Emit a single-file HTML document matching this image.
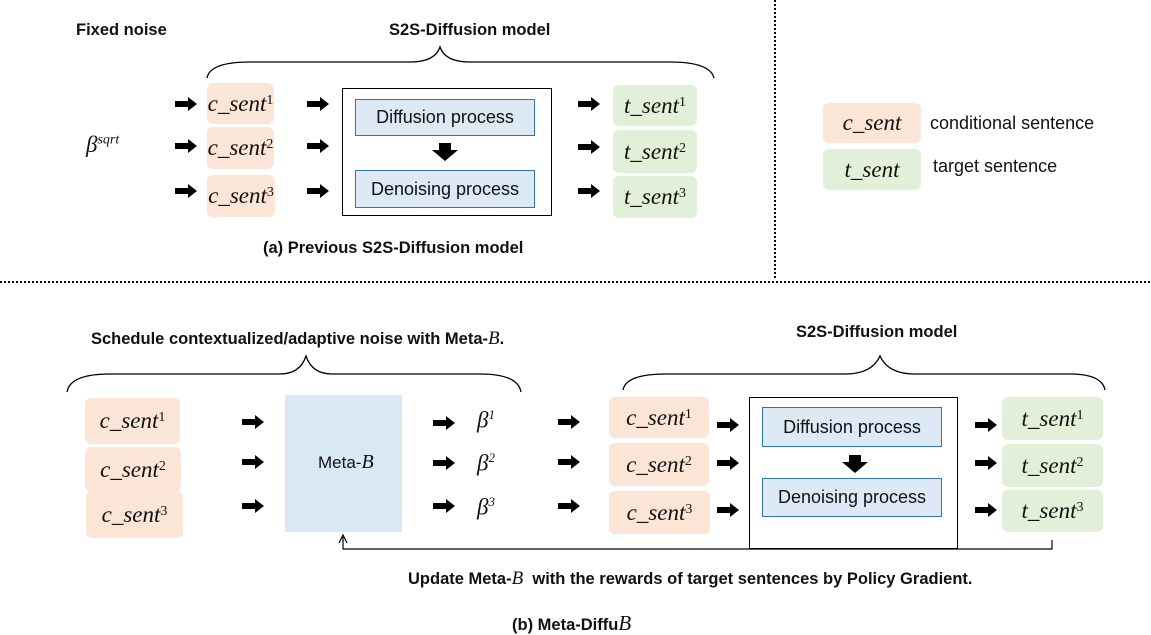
<!DOCTYPE html>
<html><head><meta charset="utf-8">
<style>
html,body{margin:0;padding:0;background:#fff;}
#root{position:relative;width:1151px;height:635px;overflow:hidden;font-family:"Liberation Sans",sans-serif;}
.t{position:absolute;white-space:nowrap;color:#111;}
.b{font-weight:bold;font-size:16.5px;}
.box{position:absolute;border-radius:6px;display:flex;align-items:center;justify-content:center;font-family:"Liberation Serif",serif;font-style:italic;font-size:23px;color:#111;}
.box sup{font-size:14px;font-style:normal;position:relative;top:-3px;}
.c{background:#fbe5d6;}
.g{background:#e2efd9;}
.blue{position:absolute;background:#dde9f5;border:1.5px solid #2e75b6;display:flex;align-items:center;justify-content:center;font-size:18px;color:#111;box-sizing:border-box;}
.frame{position:absolute;border:1.5px solid #000;box-sizing:border-box;}
.m{font-family:"Liberation Serif",serif;font-style:italic;}
</style></head><body>
<div id="root">
<svg id="svg" width="1151" height="635" style="position:absolute;left:0;top:0">
<line x1="775" y1="0" x2="775" y2="280" stroke="#000" stroke-width="2" stroke-dasharray="2,2"/>
<line x1="0" y1="282" x2="1151" y2="282" stroke="#000" stroke-width="2" stroke-dasharray="2,2"/>
<path d="M207,78 Q210,62 250,62 L410,62 Q435,62 440,47 Q445,62 470,62 L670,62 Q710,62 714,78" fill="none" stroke="#000" stroke-width="1.3"/>
<path d="M67,392 Q70,374 110,374 L280,374 Q300,374 306,356 Q312,374 332,374 L480,374 Q518,374 521,392" fill="none" stroke="#000" stroke-width="1.3"/>
<path d="M623,390 Q626,374 666,374 L845,374 Q872,374 880,356 Q888,374 915,374 L1070,374 Q1102,374 1105,390" fill="none" stroke="#000" stroke-width="1.3"/>
<polyline points="1052,540 1052,549 343,549 343,537" fill="none" stroke="#000" stroke-width="1.2"/>
<polyline points="339,543 343,535 347,543" fill="none" stroke="#000" stroke-width="1.2"/>
</svg>

<div class="t b" style="left:76px;top:21px">Fixed noise</div>
<div class="t b" style="left:389px;top:21px">S2S-Diffusion model</div>
<div class="t m" style="left:86px;top:132px;font-size:23px">β<sup style="font-size:14px">sqrt</sup></div>

<div class="box c" style="left:207px;top:83px;width:67px;height:41px">c_sent<sup>1</sup></div>
<div class="box c" style="left:207px;top:127px;width:67px;height:42px">c_sent<sup>2</sup></div>
<div class="box c" style="left:207px;top:175px;width:68px;height:42px">c_sent<sup>3</sup></div>

<div class="frame" style="left:342px;top:88px;width:210px;height:128px"></div>
<div class="blue" style="left:355px;top:99px;width:180px;height:37px">Diffusion process</div>
<div class="blue" style="left:355px;top:170px;width:180px;height:38px">Denoising process</div>

<div class="box g" style="left:613px;top:85px;width:84px;height:41px">t_sent<sup>1</sup></div>
<div class="box g" style="left:613px;top:130px;width:84px;height:43px">t_sent<sup>2</sup></div>
<div class="box g" style="left:613px;top:176px;width:84px;height:42px">t_sent<sup>3</sup></div>

<div class="t b" style="left:263px;top:239px">(a) Previous S2S-Diffusion model</div>

<div class="box c" style="left:823px;top:103px;width:98px;height:40px">c_sent</div>
<div class="t" style="left:930px;top:113px;font-size:18px">conditional sentence</div>
<div class="box g" style="left:823px;top:149px;width:98px;height:41px">t_sent</div>
<div class="t" style="left:933px;top:156px;font-size:18px">target sentence</div>

<div class="t b" style="left:91px;top:328px">Schedule contextualized/adaptive noise with Meta-<span class="m" style="font-weight:normal;font-size:19px">B</span>.</div>
<div class="t b" style="left:796px;top:323px">S2S-Diffusion model</div>

<div class="box c" style="left:85px;top:398px;width:95px;height:46px">c_sent<sup>1</sup></div>
<div class="box c" style="left:85px;top:447px;width:96px;height:45px">c_sent<sup>2</sup></div>
<div class="box c" style="left:86px;top:491px;width:97px;height:47px">c_sent<sup>3</sup></div>

<div style="position:absolute;left:285px;top:395px;width:117px;height:137px;background:#dae8f5"></div>
<div class="t" style="left:318px;top:451px;font-size:17px">Meta-<span class="m" style="font-size:20px">B</span></div>

<div class="t m" style="left:477px;top:407px;font-size:23px">β<sup style="font-size:13px">1</sup></div>
<div class="t m" style="left:477px;top:450px;font-size:23px">β<sup style="font-size:13px">2</sup></div>
<div class="t m" style="left:477px;top:494px;font-size:23px">β<sup style="font-size:13px">3</sup></div>

<div class="box c" style="left:609px;top:397px;width:100px;height:41px">c_sent<sup>1</sup></div>
<div class="box c" style="left:609px;top:443px;width:100px;height:43px">c_sent<sup>2</sup></div>
<div class="box c" style="left:609px;top:491px;width:101px;height:43px">c_sent<sup>3</sup></div>

<div class="frame" style="left:749px;top:397px;width:209px;height:152px"></div>
<div class="blue" style="left:762px;top:407px;width:180px;height:40px">Diffusion process</div>
<div class="blue" style="left:762px;top:478px;width:180px;height:39px">Denoising process</div>

<div class="box g" style="left:1002px;top:397px;width:101px;height:43px">t_sent<sup>1</sup></div>
<div class="box g" style="left:1002px;top:444px;width:101px;height:43px">t_sent<sup>2</sup></div>
<div class="box g" style="left:1002px;top:490px;width:101px;height:42px">t_sent<sup>3</sup></div>

<div class="t b" style="left:408px;top:568px">Update Meta-<span class="m" style="font-weight:normal;font-size:19px">B</span>&nbsp; with the rewards of target sentences by Policy Gradient.</div>
<div class="t b" style="left:512px;top:611px">(b) Meta-Diffu<span class="m" style="font-weight:normal;font-size:21px">B</span></div>
</div>
<script>
const svg=document.getElementById('svg');
const NS='http://www.w3.org/2000/svg';
const rightArrows=[[175,104],[175,146],[175,191],[307,104],[307,146],[307,191],[578,104],[578,147],[578,191],
[242,422],[242,462],[242,506],[433,423],[433,463],[433,506],[558,422],[558,462],[558,506],[717,425],[717,463],[717,510],[975,425],[975,463],[975,510]];
rightArrows.forEach(function(a,i){
  const p=document.createElementNS(NS,'polygon');
  const x=a[0],y=a[1];
  p.setAttribute('points',[x,y-3,x+13,y-3,x+13,y-7,x+22,y,x+13,y+7,x+13,y+3,x,y+3].join(','));
  p.setAttribute('fill','#000');
  
  
  svg.appendChild(p);
});
[[445,143],[855,455]].forEach(function(a){
  const p=document.createElementNS(NS,'polygon');
  const x=a[0],y=a[1];
  p.setAttribute('points',[x-6,y,x+6,y,x+6,y+7,x+13,y+7,x,y+18,x-13,y+7,x-6,y+7].join(','));
  p.setAttribute('fill','#000');
  
  
  svg.appendChild(p);
});
</script>
</body></html>
